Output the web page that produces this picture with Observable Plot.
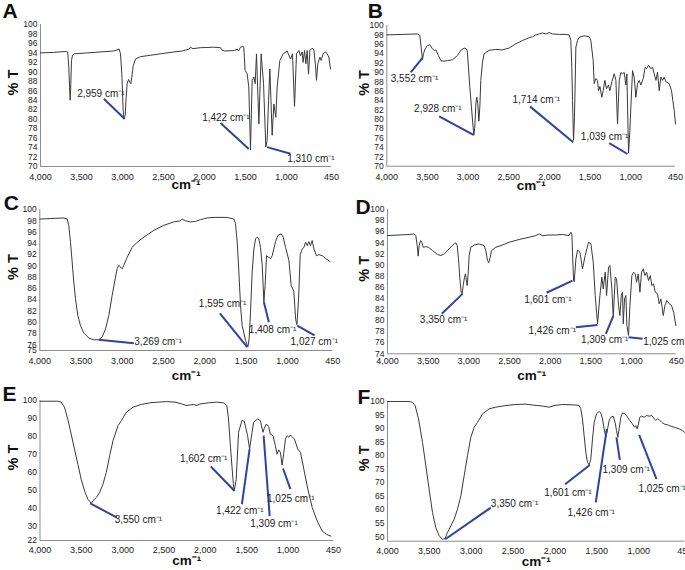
<!DOCTYPE html>
<html><head><meta charset="utf-8">
<script src="https://cdn.jsdelivr.net/npm/d3@7"></script>
<script src="https://cdn.jsdelivr.net/npm/@observablehq/plot@0.6"></script>
<style>
body{margin:0;background:#fff;}
#fig{position:relative;width:685px;height:570px;overflow:hidden;background:#fff;}
.panel{position:absolute;}
.panel svg{overflow:visible;}
</style></head><body><div id="fig"></div>
<script>
const CM = " cm\u207B\u00B9";
const xTicks = [4000, 3500, 3000, 2500, 2000, 1500, 1000, 450];
const yTicksA = d3.range(70, 101, 2);
const yTicksB = d3.range(70, 101, 2);
const yTicksC = [75].concat(d3.range(76, 101, 2));
const yTicksD = d3.range(74, 101, 2);
const yTicksE = [22, 30, 40, 50, 60, 70, 80, 90, 100];
const yTicksF = d3.range(50, 101, 5);

// [wavenumber cm-1, %T]
const specA = [[4000,94.0],[3840,94.1],[3700,94.3],[3668,94.2],[3655,91],[3646,87],[3638,84],[3630,87.5],[3622,92.4],[3610,93.5],[3585,93.8],[3430,94.0],[3270,94.2],[3105,94.4],[3040,94.8],[3024,93.8],[3008,89.6],[2992,82],[2980,80],[2967,80.8],[2955,84.6],[2943,87.5],[2926,88.4],[2910,87.8],[2898,87.5],[2886,88.9],[2869,91.3],[2841,92.7],[2780,93.2],[2660,93.5],[2540,93.8],[2375,94.2],[2270,94.4],[2190,94.8],[2170,95.2],[2140,94.9],[2050,95.1],[1885,95.2],[1805,95.1],[1785,94.6],[1755,94.4],[1640,94.5],[1600,94.8],[1585,94.4],[1560,95.2],[1530,95.4],[1520,95.2],[1504,90.3],[1479,89.6],[1459,86.8],[1438,73.5],[1418,88.2],[1397,88.9],[1381,87.5],[1365,93.8],[1336,79.0],[1308,93.8],[1279,87.5],[1251,74.1],[1235,75.5],[1218,83.9],[1202,90.6],[1174,76.6],[1153,83.2],[1129,80.4],[1113,86.8],[1080,92.4],[1040,93.8],[991,94.4],[950,92.7],[926,93.8],[901,82.7],[877,93.8],[848,94.5],[828,93.4],[808,94.2],[796,92],[779,94.5],[763,91.7],[747,94.5],[730,89.5],[714,94.5],[686,95.0],[665,94.7],[645,91.3],[633,88.2],[617,91.7],[592,93.1],[576,92.4],[552,93.8],[523,94.2],[503,93.8],[482,93.1],[462,90.6]];
const specB = [[4000,98.0],[3623,98.2],[3594,97.9],[3578,95.4],[3561,92.7],[3549,94.0],[3529,95.0],[3500,95.7],[3471,95.9],[3438,95.0],[3418,94.7],[3397,94.8],[3365,93.6],[3336,92.5],[3295,92.4],[3254,92.5],[3192,92.7],[3131,93.6],[3090,94.7],[3049,95.2],[3020,95.0],[3008,94.3],[2996,91.1],[2979,86.8],[2959,82.6],[2942,79.0],[2930,76.6],[2918,78.3],[2905,83.3],[2893,84.7],[2881,83.3],[2868,79.6],[2856,82.6],[2844,88.3],[2823,92.2],[2803,94.0],[2741,94.7],[2659,94.9],[2577,94.8],[2495,95.2],[2413,96.1],[2331,96.8],[2249,97.4],[2208,97.6],[2167,98.0],[2126,98.2],[2085,98.4],[2044,98.2],[2003,98.5],[1962,98.2],[1880,98.1],[1798,98.1],[1757,98.0],[1737,96.8],[1725,91.1],[1716,84.0],[1704,75.5],[1692,80.4],[1675,95.4],[1655,96.8],[1634,97.5],[1573,97.8],[1511,97.6],[1491,96.8],[1462,92.5],[1450,87.6],[1429,88.7],[1409,88.3],[1396,86.1],[1380,87.0],[1356,84.7],[1339,86.1],[1319,88.3],[1298,86.5],[1274,87.3],[1257,86.1],[1233,88.0],[1204,89.7],[1183,88.3],[1163,79.0],[1142,88.3],[1122,90.0],[1101,89.7],[1081,90.0],[1060,87.3],[1048,89.7],[1027,72.8],[1011,77.6],[999,82.6],[978,90.4],[958,89.0],[937,84.7],[917,87.6],[896,88.3],[876,87.3],[847,88.7],[823,91.1],[806,90.8],[782,91.5],[753,90.8],[732,91.1],[712,89.7],[691,88.3],[671,90.0],[650,86.1],[630,89.0],[609,88.3],[589,89.0],[568,88.0],[527,87.6],[499,86.1],[466,81.9],[450,79.0]];
const specC = [[4000,98.3],[3871,98.4],[3709,98.5],[3669,98.3],[3649,97.2],[3628,94.2],[3608,90.7],[3588,87.1],[3568,84.2],[3539,81.2],[3507,79.4],[3467,78.1],[3406,77.2],[3346,76.9],[3285,76.9],[3245,77.4],[3204,78.8],[3164,81.2],[3123,84.8],[3083,88.0],[3063,89.5],[3043,90.1],[3022,89.8],[3002,89.5],[2982,90.1],[2942,91.5],[2881,93.3],[2820,94.2],[2740,95.1],[2618,96.3],[2497,97.2],[2376,97.8],[2295,98.0],[2275,98.3],[2235,98.0],[2174,97.8],[2113,97.9],[2053,98.2],[1972,98.5],[1891,98.6],[1730,98.6],[1649,98.3],[1629,97.5],[1608,94.2],[1588,88.9],[1568,83.0],[1548,79.4],[1507,76.8],[1479,75.6],[1463,77.2],[1447,81.8],[1427,88.9],[1406,93.0],[1386,94.8],[1366,95.1],[1346,94.8],[1326,93.3],[1305,90.1],[1285,83.6],[1270,86.5],[1253,91.8],[1225,91.5],[1205,91.3],[1184,91.8],[1144,94.3],[1115,95.4],[1075,95.7],[1051,95.1],[1023,93.3],[982,91.0],[954,86.5],[922,85.5],[900,80.5],[885,79.6],[865,84],[845,92.0],[820,93.0],[800,93.3],[780,94.2],[760,93.6],[740,94.3],[720,93.6],[699,94.5],[679,93.0],[647,91.8],[619,92.0],[578,91.8],[538,91.3],[485,90.8]];
const specD = [[4000,95.3],[3734,95.5],[3672,95.6],[3652,95.3],[3635,93.5],[3623,91.6],[3611,93.5],[3594,94.4],[3578,94.1],[3561,93.2],[3529,93.3],[3496,93.2],[3447,92.6],[3385,91.9],[3344,91.7],[3303,92.0],[3242,92.9],[3180,93.8],[3160,94.0],[3143,93.5],[3127,91.1],[3110,87.5],[3094,85.1],[3082,84.8],[3069,86.3],[3053,87.8],[3041,88.4],[3028,86.9],[3020,86.3],[3008,88.4],[2996,91.7],[2975,93.2],[2934,93.6],[2873,93.8],[2811,93.5],[2791,92.6],[2770,90.8],[2754,90.4],[2737,91.4],[2721,92.6],[2668,93.2],[2586,93.6],[2504,94.1],[2381,94.6],[2258,95.0],[2176,95.3],[2135,95.6],[2094,95.3],[2012,95.4],[1930,95.4],[1848,95.5],[1766,95.3],[1745,95.9],[1733,95.6],[1725,92.3],[1712,87.2],[1704,87.0],[1684,91.0],[1663,92.7],[1634,92.3],[1602,89.3],[1569,91.7],[1528,94.1],[1499,93.8],[1470,90.5],[1446,84.5],[1417,79.4],[1388,84.5],[1364,87.8],[1347,85.7],[1323,88.7],[1306,84.5],[1282,89.6],[1265,89.9],[1241,85.7],[1224,80.6],[1200,87.8],[1183,87.5],[1159,82.7],[1142,80.9],[1126,84.5],[1110,85.1],[1101,79.4],[1085,83.9],[1069,84.5],[1056,79.1],[1036,77.3],[1019,82.7],[995,88.1],[974,88.7],[954,88.4],[937,86.9],[917,88.4],[896,85.1],[876,88.7],[855,89.3],[835,88.1],[814,88.7],[790,87.2],[769,88.1],[749,86.3],[728,86.6],[708,85.1],[679,84.8],[659,83.0],[638,83.9],[609,80.9],[589,82.7],[564,83.6],[536,83.0],[507,82.7],[482,81.5],[454,79.1]];
const specE = [[4000,99.6],[3785,99.6],[3745,99.1],[3704,96.3],[3664,89.7],[3623,81.3],[3583,72.9],[3542,64.5],[3502,56.1],[3461,49.6],[3421,45.0],[3380,42.7],[3360,44.0],[3320,45.9],[3279,48.7],[3239,53.3],[3198,59.9],[3158,69.2],[3117,77.6],[3056,86.0],[3016,88.8],[2955,93.5],[2874,96.3],[2773,97.8],[2672,98.7],[2570,99.1],[2469,99.4],[2368,99.1],[2287,98.1],[2226,97.2],[2145,97.8],[2105,97.2],[2064,98.1],[1963,98.7],[1862,99.1],[1781,98.7],[1740,97.2],[1720,89.7],[1700,76.7],[1679,63.6],[1660,53],[1651,49.6],[1627,56],[1598,82.3],[1558,88.8],[1530,88.5],[1489,80.4],[1465,72.9],[1436,82],[1416,87.9],[1368,89.7],[1335,88.8],[1303,82.3],[1287,84.5],[1262,86.9],[1234,85.5],[1214,81.3],[1181,80.4],[1153,74.8],[1133,70.1],[1112,72.5],[1092,71],[1072,64.0],[1052,70.5],[1031,78.5],[1011,80.4],[991,79.5],[971,80.8],[950,79.8],[922,78.5],[882,72.9],[849,71.1],[809,61.7],[760,50.6],[707,40.3],[647,32.8],[586,27.2],[533,25.4],[480,24.4]];
const specF = [[4000,99.9],[3741,99.9],[3702,99.6],[3670,98.4],[3630,93.5],[3582,84.8],[3542,76.2],[3503,67.6],[3463,59.0],[3423,53.4],[3383,50.4],[3343,49.1],[3311,49.4],[3284,51.6],[3244,54.0],[3204,56.5],[3164,60.2],[3124,65.1],[3085,72.5],[3045,79.9],[3005,86.7],[2965,90.4],[2925,92.2],[2866,95.3],[2786,97.2],[2707,97.8],[2587,98.4],[2468,98.8],[2348,98.9],[2269,98.6],[2149,98.2],[2070,97.8],[2010,98.4],[1911,98.8],[1751,98.6],[1712,98.4],[1692,97.2],[1672,93.5],[1652,87.3],[1632,81.2],[1612,77.5],[1592,76.5],[1572,78.7],[1552,86.1],[1532,92.2],[1505,95.3],[1473,96.2],[1453,95.7],[1433,93.5],[1413,89.8],[1393,86.7],[1380,88.5],[1353,92.9],[1333,94.1],[1306,94.5],[1282,92.2],[1266,89.2],[1250,86.7],[1234,89.8],[1214,94.1],[1194,95.7],[1162,95.3],[1134,94.1],[1107,92.9],[1075,91.6],[1051,90.4],[1035,91.0],[1019,89.8],[1003,91.6],[987,94.1],[967,94.5],[935,94.1],[908,94.7],[876,94.5],[844,94.7],[816,93.5],[796,92.9],[776,93.5],[756,93.2],[725,92.2],[697,91.6],[657,91.3],[617,90.8],[577,90.4],[517,89.8],[478,89.2],[450,88.5]];

// [label, peak wn, peak %T, line-end wn, line-end %T, text wn, text %T]
const annA = [["2,959",2975,80.1,3227,84.3,3553,85.4],["1,422",1459,73.7,1804,79.2,2028,80.3],["1,310",1235,74.1,950,72.7,991,71.6]];
const annB = [["3,552",3561,93.1,3705,90.0,3951,88.6],["2,928",2934,76.7,3356,80.6,3664,82.2],["1,714",1708,75.1,2237,82.7,2454,84.1],["1,039",1040,72.6,1265,74.9,1614,76.3]];
const annC = [["3,269",3285,76.9,2861,76.3,2855,76.5],["1,595",1487,75.6,1818,81.6,2073,83.2],["1,408",1285,83.6,1225,80.0,1467,78.7],["1,027",881,79.4,671,77.7,962,76.6]];
const annD = [["3,350",3078,84.8,3332,81.2,3602,80.1],["1,601",1725,87.2,2044,85.0,2319,83.7],["1,426",1417,79.2,1684,78.8,2266,78.2],["1,309",1224,80.8,1315,77.6,1622,76.6],["1,025",1036,77.0,863,76.7,855,76.2]];
const annE = [["3,550",3392,42.7,3068,34.7,3097,33.4],["1,602",1647,49.6,1934,63.2,2307,67.3],["1,422",1465,72.9,1558,42.2,1870,38.4],["1,309",1295,80.4,1222,35.6,1457,31.3],["1,025",1060,62.1,971,50.6,1254,45.0]];
const annF = [["3,350",3311,49.1,2766,60.8,2766,62.1],["1,601",1584,76.5,1879,69.4,2129,66.4],["1,426",1381,89.8,1513,62.7,1851,58.7],["1,309",1266,86.7,1226,78.4,1433,74.6],["1,025",995,87.6,788,71.3,1003,67.8]];

const letters = ["A","B","C","D","E","F"];
const specs = [specA, specB, specC, specD, specE, specF];
const anns = [annA, annB, annC, annD, annE, annF];
const yDomains = [[70,100],[70,100],[75,100],[74,100],[22,100],[48.4,100]];
const yTicks = [yTicksA, yTicksB, yTicksC, yTicksD, yTicksE, yTicksF];

// layout: left, top, width, height, mt, mr, mb, ml, xPad, cmDy, ptDx, letterDx, letterDy
const layout = [
  [0,   0,   342, 185, 24,   11,  19,   40,   7,   18, -27,  -38,  -13],
  [342, 0,   343, 185, 25,   10,  19.3, 44.3, 7,   19, -22,  -19,  -14],
  [0,   185, 342, 190, 24,   9.7, 25,   39.3, 7.5, 25, -26,  -36,  -6.5],
  [342, 185, 343, 190, 24,   9.3, 21.7, 45,   3.5, 22, -23,  -32,  -2.5],
  [0,   375, 342, 195, 25,   9,   30,   39.5, 6,   20, -26.5,-37.5,-6.5],
  [342, 375, 343, 195, 25.7, 0.7, 29.3, 45,   6,   20, -23,  -30,  -4]
];

const fig = document.getElementById("fig");
const FONT = "'Liberation Sans', Arial, Helvetica, sans-serif";
const AXIS = "#8c8c8c", LINE = "#3a3a3a", BLUE = "#2f44a0", TXT = "#222";
const fmt = d3.format(",");

letters.forEach((id, i) => {
  const [left, top, width, height, mt, mr, mb, ml, xPad, cmDy, ptDx, lDx, lDy] = layout[i];
  const yd = yDomains[i];
  const chart = Plot.plot({
    width, height,
    marginTop: mt, marginRight: mr, marginBottom: mb, marginLeft: ml,
    style: {fontFamily: FONT, overflow: "visible", background: "transparent", color: TXT},
    x: {domain: [4000, 450]},
    y: {domain: yd},
    marks: [
      Plot.ruleX([4000], {stroke: AXIS, strokeWidth: 1}),
      Plot.ruleY([yd[0]], {stroke: AXIS, strokeWidth: 1}),
      Plot.axisX({ticks: xTicks, tickFormat: fmt, tickSize: 0, tickPadding: xPad, fontSize: 9, label: null}),
      Plot.axisY({ticks: yTicks[i], tickSize: 0, tickPadding: 3, fontSize: 8.5, label: null}),
      Plot.line(specs[i], {x: d => d[0], y: d => d[1], stroke: LINE, strokeWidth: 1}),
      Plot.link(anns[i], {x1: d => d[3], y1: d => d[4], x2: d => d[1], y2: d => d[2], stroke: BLUE, strokeWidth: 2}),
      Plot.text(anns[i], {x: d => d[5], y: d => d[6], text: d => d[0] + CM, textAnchor: "start", lineAnchor: "middle", fontSize: 10, fill: TXT}),
      Plot.text(["cm\u207B\u00B9"], {frameAnchor: "bottom", lineAnchor: "middle", dy: cmDy, fontSize: 13.5, fontWeight: "bold", fill: "#111"}),
      Plot.text(["% T"], {frameAnchor: "left", lineAnchor: "middle", dx: ptDx, rotate: -90, fontSize: 14.5, fontWeight: "bold", fill: "#111"}),
      Plot.text([id], {frameAnchor: "top-left", lineAnchor: "middle", dx: lDx, dy: lDy, textAnchor: "start", fontSize: 21, fontWeight: "bold", fill: "#111"})
    ]
  });
  const wrap = document.createElement("div");
  wrap.className = "panel";
  wrap.style.left = left + "px";
  wrap.style.top = top + "px";
  wrap.appendChild(chart);
  fig.appendChild(wrap);
});
</script></body></html>
